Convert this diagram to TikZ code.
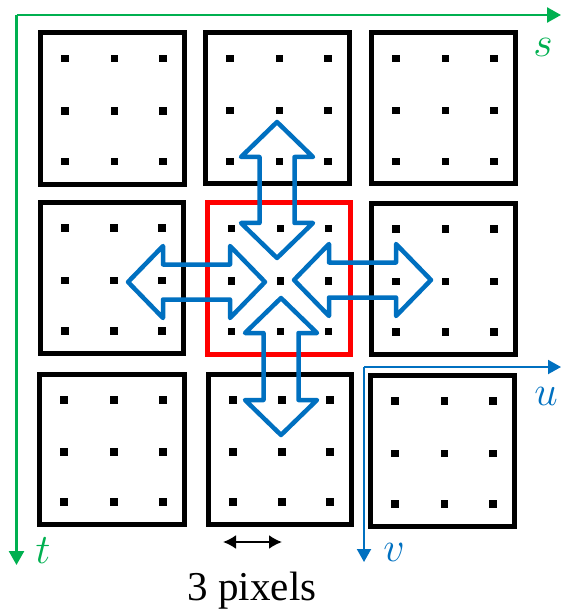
\RequirePackage{fix-cm}
\documentclass[tikz,border=0pt]{standalone}
\usepackage{fontspec}
\setmainfont{Liberation Serif}
\usetikzlibrary{arrows.meta,calc}
\definecolor{axgreen}{HTML}{00B050}
\definecolor{axblue}{HTML}{0070C0}
\definecolor{cellred}{HTML}{FF0000}
\tikzset{
  cellsty/.style={draw=black, line width=5pt, inner sep=0pt, outer sep=0pt},
  dotsty/.style={fill=black, inner sep=0pt, minimum size=7.5pt},
  barrow/.style={draw=axblue, line width=4.5pt, line join=round},
  gaxis/.style={draw=axgreen, line width=2.5pt, -{Triangle[length=14pt,width=15pt]}},
  baxis/.style={draw=axblue, line width=2pt, -{Triangle[length=13pt,width=14pt]}},
  axlabel/.style={inner sep=0pt, font=\fontsize{42}{48}\selectfont},
  scalearrow/.style={draw=black, line width=2pt, {Latex[length=13pt,width=14pt]}-{Latex[length=13pt,width=14pt]}}
}
\newcommand\cellbox[6]{%
  \node[cellsty, draw=#6, minimum width={(#4-#2)*1pt}, minimum height={(#5-#3)*1pt}] (#1) at ({(#2+#4)/2},{(#3+#5)/2}) {};
  \foreach \fx in {0.17,0.515,0.85} {
    \foreach \fy in {0.17,0.515,0.85} {
      \node[dotsty] at ({#2+\fx*(#4-#2)},{#3+\fy*(#5-#3)}) {};
    }
  }
}
\newcommand\varrow[3]{% cx, ytop, ybot
  \draw[barrow] (#1,#2) -- ++(36,35) -- ++(-18.5,0) -- (#1+17.5,#3-35) -- ++(18.5,0) -- (#1,#3)
    -- ++(-36,-35) -- ++(18.5,0) -- (#1-17.5,#2+35) -- ++(-18.5,0) -- cycle;}
\newcommand\harrow[3]{% cy, xl, xr
  \draw[barrow] (#2,#1) -- ++(35,-36) -- ++(0,18.5) -- (#3-35,#1-17.5) -- ++(0,-18.5) -- (#3,#1)
    -- ++(-35,36) -- ++(0,-18.5) -- (#2+35,#1+17.5) -- ++(0,18.5) -- cycle;}
\begin{document}
\begin{tikzpicture}[x=1pt,y=-1pt]
\useasboundingbox (0,0) rectangle (561,609);
% cells
\cellbox{a11}{40.5}{32.5}{184.5}{184.5}{black}
\cellbox{a12}{205.5}{32.5}{349.5}{184}{black}
\cellbox{a13}{371.5}{32.5}{515.5}{184}{black}
\cellbox{a21}{40.5}{202.5}{183.5}{353.5}{black}
\cellbox{a22}{207}{203}{350}{354}{cellred}
\cellbox{a23}{371.5}{203.5}{515.5}{354.5}{black}
\cellbox{a31}{39.5}{374.5}{184.5}{524.5}{black}
\cellbox{a32}{208.5}{374.5}{351.5}{524.5}{black}
\cellbox{a33}{370.5}{375.5}{514.5}{526.5}{black}
% block arrows
\varrow{277}{122}{258}
\varrow{281}{298}{435}
\harrow{282}{128}{265}
\harrow{280}{294}{431}
% green axes
\coordinate (g0) at (16.5,15);
\coordinate (gs) at (561,15);
\coordinate (gt) at (16.5,565);
\draw[gaxis] (g0) -- (gs);
\draw[gaxis] (g0) -- (gt);
\node[axlabel, text=axgreen] (ls) at (543,47) {$s$};
\node[axlabel, text=axgreen] (lt) at (43,551) {$t$};
% blue axes
\coordinate (b0) at (364,367);
\coordinate (bu) at (561,367);
\coordinate (bv) at (364,562);
\draw[baxis] (b0) -- (bu);
\draw[baxis] (b0) -- (bv);
\node[axlabel, text=axblue] (lu) at (546,396) {$u$};
\node[axlabel, text=axblue] (lv) at (394,552) {$v$};
% scale
\coordinate (w1) at (223,542);
\coordinate (w2) at (282,542);
\draw[scalearrow] (w1) -- (w2);
\node[anchor=base, inner sep=0pt, font=\fontsize{41}{48}\selectfont] (px) at (252,600) {3 pixels};
\end{tikzpicture}
\end{document}
